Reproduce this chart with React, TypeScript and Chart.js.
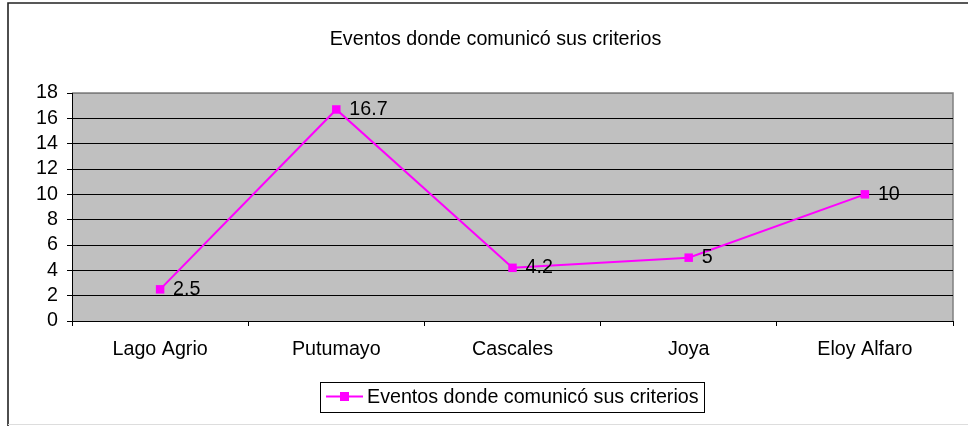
import React, { useEffect, useRef } from "react";
import { Chart, registerables } from "chart.js";

Chart.register(...registerables);

const categories = ["Lago Agrio", "Putumayo", "Cascales", "Joya", "Eloy Alfaro"];
const seriesValues = [2.5, 16.7, 4.2, 5, 10];
const seriesLabel = "Eventos donde comunicó sus criterios";
const chartTitle = "Eventos donde comunicó sus criterios";
const yTickValues = [0, 2, 4, 6, 8, 10, 12, 14, 16, 18];

const FONT = "'Liberation Sans', Arial, sans-serif";
const FSIZE = 19.7;
const MAGENTA = "#FF00FF";

const decorPlugin = {
  id: "decor",
  beforeDraw(chart: any) {
    const { ctx, chartArea } = chart;
    ctx.save();
    ctx.fillStyle = "#ffffff";
    ctx.fillRect(0, 0, chart.width, chart.height);
    // outer frame
    ctx.strokeStyle = "#222";
    ctx.lineWidth = 1.6;
    ctx.beginPath();
    ctx.moveTo(8, 426);
    ctx.lineTo(8, 3);
    ctx.lineTo(968, 3);
    ctx.stroke();
    ctx.strokeStyle = "#dddddd";
    ctx.lineWidth = 1;
    ctx.beginPath();
    ctx.moveTo(8, 424.5);
    ctx.lineTo(968, 424.5);
    ctx.stroke();
    // plot background
    ctx.fillStyle = "#C0C0C0";
    ctx.fillRect(chartArea.left, chartArea.top, chartArea.right - chartArea.left, chartArea.bottom - chartArea.top);
    ctx.strokeStyle = "#808080";
    ctx.lineWidth = 1.5;
    ctx.beginPath();
    ctx.moveTo(chartArea.left, chartArea.top);
    ctx.lineTo(chartArea.right, chartArea.top);
    ctx.lineTo(chartArea.right, chartArea.bottom);
    ctx.stroke();
    ctx.restore();
  },
  afterDatasetsDraw(chart: any) {
    const { ctx } = chart;
    ctx.save();
    ctx.font = `${FSIZE}px ${FONT}`;
    ctx.fillStyle = "#000";
    ctx.textBaseline = "middle";
    ctx.textAlign = "left";
    const meta = chart.getDatasetMeta(0);
    const data = chart.data.datasets[0].data;
    meta.data.forEach((pt: any, i: number) => {
      ctx.fillText(String(data[i]), pt.x + 13, pt.y);
    });
    ctx.restore();
  },
  afterDraw(chart: any) {
    const { ctx } = chart;
    ctx.save();
    // title
    ctx.font = `${FSIZE}px ${FONT}`;
    ctx.fillStyle = "#000";
    ctx.textAlign = "center";
    ctx.textBaseline = "middle";
    ctx.fillText(chartTitle, 495.5, 40);
    // legend
    const label = chart.data.datasets[0].label;
    ctx.strokeStyle = "#000";
    ctx.lineWidth = 1;
    ctx.strokeRect(320.5, 382.5, 384, 30);
    ctx.strokeStyle = MAGENTA;
    ctx.lineWidth = 2;
    ctx.beginPath();
    ctx.moveTo(326, 396.5);
    ctx.lineTo(363, 396.5);
    ctx.stroke();
    ctx.fillStyle = MAGENTA;
    ctx.fillRect(340, 392, 9, 9);
    ctx.fillStyle = "#000";
    ctx.textAlign = "left";
    ctx.fillText(label, 367, 397.5);
    ctx.restore();
  },
};

export default function App() {
  const ref = useRef<HTMLCanvasElement>(null);
  useEffect(() => {
    if (!ref.current) return;
    const chart = new Chart(ref.current, {
      type: "line",
      data: {
        labels: categories,
        datasets: [
          {
            label: seriesLabel,
            data: seriesValues,
            borderColor: MAGENTA,
            backgroundColor: MAGENTA,
            borderWidth: 2,
            pointStyle: "rect",
            pointRadius: 6,
            pointBorderWidth: 0,
            pointBackgroundColor: MAGENTA,
            tension: 0,
          },
        ],
      },
      options: {
        responsive: false,
        animation: false,
        devicePixelRatio: 1,
        layout: { padding: { left: 0, top: 93, right: 15, bottom: 65 } },
        plugins: {
          legend: { display: false },
          title: { display: false },
          tooltip: { enabled: false },
        },
        scales: {
          x: {
            type: "category",
            offset: true,
            afterFit(scale: any) {
              scale.height = 40;
            },
            grid: {
              offset: true,
              drawOnChartArea: false,
              drawTicks: true,
              tickLength: 5,
              color: "#000",
              lineWidth: 1,
            },
            border: { display: true, color: "#000", width: 1 },
            ticks: {
              font: { family: FONT, size: FSIZE },
              color: "#000",
              padding: 12,
              maxRotation: 0,
              autoSkip: false,
            },
          },
          y: {
            min: 0,
            max: 18,
            afterFit(scale: any) {
              scale.width = 72;
            },
            afterBuildTicks(scale: any) {
              scale.ticks = yTickValues.map((v) => ({ value: v }));
            },
            grid: {
              color: (c: any) => (c.tick && c.tick.value === 18 ? "#808080" : "#000"),
              tickColor: "#000",
              tickLength: 5,
              lineWidth: 1,
            },
            border: { display: true, color: "#000", width: 1 },
            ticks: {
              autoSkip: false,
              stepSize: 2,
              font: { family: FONT, size: FSIZE },
              color: "#000",
              padding: 9,
            },
          },
        },
      },
      plugins: [decorPlugin],
    });
    return () => chart.destroy();
  }, []);
  return (
    <div style={{ position: "absolute", left: 0, top: 0, width: 968, height: 426 }}>
      <canvas ref={ref} width={968} height={426} style={{ width: 968, height: 426, display: "block" }} />
    </div>
  );
}
